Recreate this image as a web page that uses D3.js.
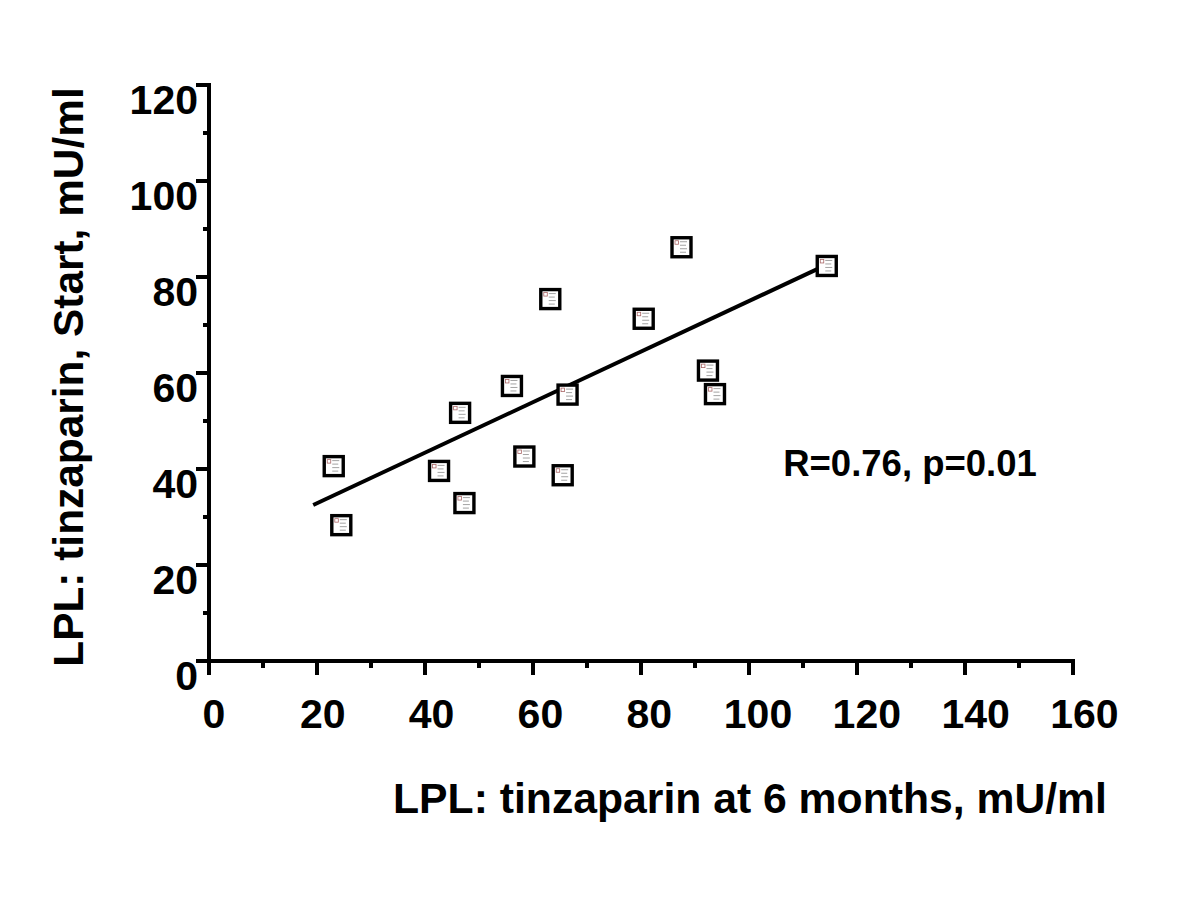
<!DOCTYPE html>
<html>
<head>
<meta charset="utf-8">
<script src="https://cdn.jsdelivr.net/npm/d3@7"></script>
<style>
  html, body { margin: 0; padding: 0; background: #fff; }
  svg { display: block; }
  text { font-family: "Liberation Sans", Arial, sans-serif; font-weight: bold; fill: #000; }
</style>
</head>
<body>
<script>
// ---- data ----
const xValues = [23.1, 24.5, 42.6, 46.5, 47.3, 56.1, 58.4, 63.2, 66.4, 65.5, 80.5, 87.5, 92.4, 93.7, 114.4];
const yValues = [40.6, 28.3, 39.6, 51.7, 32.9, 57.3, 42.6, 75.4, 55.5, 38.7, 71.3, 86.2, 60.5, 55.6, 82.3];
const fitX = [19.3, 115.6];
const fitY = [32.5, 83.2];
const xTicks = [0, 20, 40, 60, 80, 100, 120, 140, 160];
const yTicks = [0, 20, 40, 60, 80, 100, 120];
const xMinorTicks = [10, 30, 50, 70, 90, 110, 130, 150];
const yMinorTicks = [10, 30, 50, 70, 90, 110];
const xTitle = "LPL: tinzaparin at 6 months, mU/ml";
const yTitle = "LPL: tinzaparin, Start, mU/ml";
const annotation = "R=0.76, p=0.01";

// ---- layout ----
const W = 1200, H = 901;
const svg = d3.select("body").append("svg").attr("width", W).attr("height", H);

const x = d3.scaleLinear().domain([0, 160]).range([209, 1073]);
const y = d3.scaleLinear().domain([0, 120]).range([661, 85]);

const axisW = 4;
const g = svg.append("g");

// axes lines
g.append("line").attr("x1", x(0)).attr("x2", x(160)).attr("y1", y(0)).attr("y2", y(0))
  .attr("stroke", "#000").attr("stroke-width", axisW).attr("stroke-linecap", "square");
g.append("line").attr("x1", x(0)).attr("x2", x(0)).attr("y1", y(0)).attr("y2", y(120))
  .attr("stroke", "#000").attr("stroke-width", axisW).attr("stroke-linecap", "square");

// x ticks
g.selectAll(".xt").data(xTicks).enter().append("line")
  .attr("x1", d => x(d)).attr("x2", d => x(d)).attr("y1", y(0)).attr("y2", y(0) + 14)
  .attr("stroke", "#000").attr("stroke-width", axisW);
g.selectAll(".xmt").data(xMinorTicks).enter().append("line")
  .attr("x1", d => x(d)).attr("x2", d => x(d)).attr("y1", y(0)).attr("y2", y(0) + 7)
  .attr("stroke", "#000").attr("stroke-width", axisW);
// y ticks
g.selectAll(".yt").data(yTicks).enter().append("line")
  .attr("x1", x(0) - 13).attr("x2", x(0)).attr("y1", d => y(d)).attr("y2", d => y(d))
  .attr("stroke", "#000").attr("stroke-width", axisW);
g.selectAll(".ymt").data(yMinorTicks).enter().append("line")
  .attr("x1", x(0) - 6).attr("x2", x(0)).attr("y1", d => y(d)).attr("y2", d => y(d))
  .attr("stroke", "#000").attr("stroke-width", axisW);

// tick labels
g.selectAll(".xl").data(xTicks).enter().append("text")
  .attr("x", d => x(d) + 5 + d * 0.04).attr("y", y(0) + 67)
  .attr("text-anchor", "middle").attr("font-size", 41).text(d => d);
g.selectAll(".yl").data(yTicks).enter().append("text")
  .attr("x", x(0) - 11).attr("y", d => y(d) + 29)
  .attr("text-anchor", "end").attr("font-size", 41).text(d => d);

// titles
svg.append("text").attr("x", 750).attr("y", 813).attr("text-anchor", "middle")
  .attr("font-size", 42.7).text(xTitle);
svg.append("text").attr("transform", "translate(83,377) rotate(-90)")
  .attr("text-anchor", "middle").attr("font-size", 42.4).text(yTitle);

// annotation
svg.append("text").attr("x", 910).attr("y", 476).attr("text-anchor", "middle")
  .attr("font-size", 36.5).text(annotation);

// regression line
g.append("line").attr("x1", x(fitX[0])).attr("y1", y(fitY[0]))
  .attr("x2", x(fitX[1])).attr("y2", y(fitY[1]))
  .attr("stroke", "#000").attr("stroke-width", 4);

// markers (broken-image style boxes)
const pts = xValues.map((v, i) => ({ x: v, y: yValues[i] }));
const s = 19;
const m = g.selectAll(".pt").data(pts).enter().append("g")
  .attr("transform", d => `translate(${x(d.x)},${y(d.y)})`);
m.append("rect").attr("x", -s / 2).attr("y", -s / 2).attr("width", s).attr("height", s)
  .attr("fill", "#fff").attr("stroke", "#000").attr("stroke-width", 3.4);
m.append("rect").attr("x", -s / 2 + 3).attr("y", -s / 2 + 3).attr("width", 3.5).attr("height", 3.5)
  .attr("fill", "#fff").attr("stroke", "#a66").attr("stroke-width", 0.8);
[0, 1, 2, 3].forEach(k => {
  m.append("line").attr("x1", -s / 2 + 8).attr("x2", -s / 2 + 15 - (k % 2))
    .attr("y1", -s / 2 + 4 + k * 3.5).attr("y2", -s / 2 + 4 + k * 3.5)
    .attr("stroke", "#999").attr("stroke-width", 0.9);
});
</script>
</body>
</html>
